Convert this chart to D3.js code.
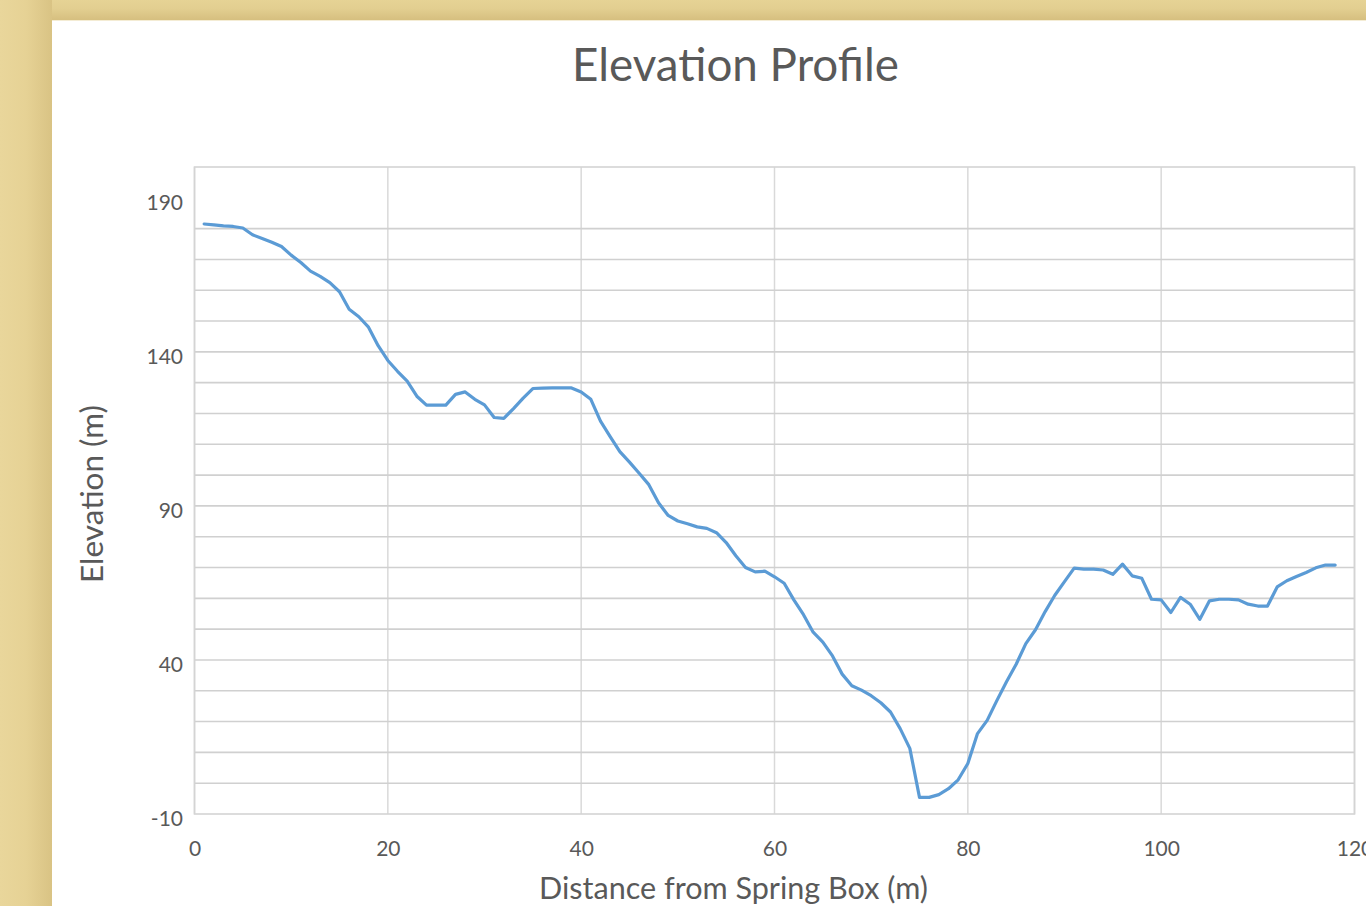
<!DOCTYPE html>
<html>
<head>
  <meta charset="utf-8">
  <title>Elevation Profile</title>
  <style>
    body{margin:0;overflow:hidden;background:#e7d496;}
    svg{display:block;}
    text{font-family:Lato, "Open Sans", sans-serif;fill:#595959;}
  </style>
</head>
<body>
  <div id="container"></div>

  <script src="https://cdn.jsdelivr.net/npm/d3@7/dist/d3.min.js"></script>
  <script>
  // survey points, distance from spring box (m) and elevation (m)
  var distance = [1,2,3,4,5,6,7,8,9,10,11,12,13,14,15,16,17,18,19,20,
    21,22,23,24,25,26,27,28,29,30,31,32,33,34,35,36,37,38,39,40,
    41,42,43,44,45,46,47,48,49,50,51,52,53,54,55,56,57,58,59,60,
    61,62,63,64,65,66,67,68,69,70,71,72,73,74,75,76,77,78,79,80,
    81,82,83,84,85,86,87,88,89,90,91,92,93,94,95,96,97,98,99,100,
    101,102,103,104,105,106,107,108,109,110,111,112,113,114,115,116,117,118];

  var elevation = [181.5,181.2,180.9,180.7,180.2,178,176.8,175.6,174.2,171.4,
    169,166.2,164.5,162.5,159.5,153.8,151.4,148,142,137.2,
    133.7,130.5,125.6,122.7,122.7,122.7,126.2,127,124.6,122.8,
    118.7,118.4,121.6,125,128.1,128.2,128.3,128.3,128.3,127,
    124.6,117.5,112.5,107.6,104.2,100.6,96.9,91,86.9,85.1,
    84.2,83.2,82.7,81.3,78.1,73.8,70,68.6,68.8,67,
    64.9,59.5,54.7,49,45.8,41.3,35.4,31.6,30.2,28.4,
    26.1,23.1,17.7,11.3,-4.6,-4.6,-3.7,-1.8,1.1,6.4,
    16.1,20.4,26.8,32.9,38.6,45.3,49.8,55.7,61,65.4,
    69.8,69.5,69.5,69.2,67.8,71.1,67.3,66.5,59.7,59.5,
    55.4,60.3,58.1,53.2,59.2,59.7,59.7,59.5,58.1,57.5,
    57.5,63.7,65.7,67.1,68.4,69.9,70.8,70.8];

  var xTicks = [0,20,40,60,80,100,120];
  var yTicks = [-10,40,90,140,190];
  var yGrid = [0,10,20,30,40,50,60,70,80,90,100,110,120,130,140,150,160,170,180];

  var W = 1366, H = 906;
  var plot = {left:194.5, right:1354.5, top:167, bottom:814};

  var svg = d3.select("#container").append("svg")
      .attr("width", W)
      .attr("height", H);

  // tan frame round the chart panel
  var defs = svg.append("defs");
  var gl = defs.append("linearGradient").attr("id","leftShade")
      .attr("x1",0).attr("x2",1).attr("y1",0).attr("y2",0);
  gl.append("stop").attr("offset","0%").attr("stop-color","#e9d69b");
  gl.append("stop").attr("offset","50%").attr("stop-color","#e6d295");
  gl.append("stop").attr("offset","100%").attr("stop-color","#d9c384");
  var gt = defs.append("linearGradient").attr("id","topShade")
      .attr("x1",0).attr("x2",0).attr("y1",0).attr("y2",1);
  gt.append("stop").attr("offset","0%").attr("stop-color","#e6d395");
  gt.append("stop").attr("offset","45%").attr("stop-color","#e2ce90");
  gt.append("stop").attr("offset","100%").attr("stop-color","#d6bf7f");

  svg.append("rect").attr("width",W).attr("height",H).attr("fill","#e7d496");
  svg.append("rect").attr("x",0).attr("y",0).attr("width",52).attr("height",H).attr("fill","url(#leftShade)");
  svg.append("rect").attr("x",52).attr("y",0).attr("width",W-52).attr("height",20).attr("fill","url(#topShade)");
  svg.append("rect").attr("x",52).attr("y",20).attr("width",W-52).attr("height",H-20).attr("fill","#fff");
  svg.append("line").attr("x1",52).attr("x2",W).attr("y1",20.5).attr("y2",20.5)
      .attr("stroke","#f4ecd4").attr("stroke-width",1);

  var xScale = d3.scaleLinear().domain([0,120]).range([plot.left, plot.right]);
  var yScale = d3.scaleLinear().domain([-10,200]).range([plot.bottom, plot.top]);

  // gridlines
  svg.append("g").selectAll("line").data(xTicks).enter().append("line")
      .attr("x1", d => xScale(d)).attr("x2", d => xScale(d))
      .attr("y1", plot.top).attr("y2", plot.bottom)
      .attr("stroke","#d9d9d9").attr("stroke-width",1.5);

  svg.append("g").selectAll("line").data(yGrid).enter().append("line")
      .attr("x1", plot.left).attr("x2", plot.right)
      .attr("y1", d => yScale(d)).attr("y2", d => yScale(d))
      .attr("stroke","#d0d0d0").attr("stroke-width",1.6);

  svg.append("rect")
      .attr("x", plot.left).attr("y", plot.top)
      .attr("width", plot.right - plot.left).attr("height", plot.bottom - plot.top)
      .attr("fill","none").attr("stroke","#d4d4d4").attr("stroke-width",1.6);

  // axes: labels only, Excel style (plain hyphen for negatives)
  var xAxis = d3.axisBottom(xScale).tickValues(xTicks).tickSize(0).tickPadding(0)
      .tickFormat(d => String(d));
  var yAxis = d3.axisLeft(yScale).tickValues(yTicks).tickSize(0).tickPadding(0)
      .tickFormat(d => String(d));

  var gx = svg.append("g").attr("transform","translate(0,"+plot.bottom+")").call(xAxis);
  var gy = svg.append("g").attr("transform","translate("+(plot.left-11.5)+",0)").call(yAxis);
  svg.selectAll(".domain").remove();
  gx.selectAll(".tick text").attr("y",33.5).attr("dy",null)
      .attr("dominant-baseline","central")
      .style("font-family","Lato").style("font-size","21px").attr("fill","#595959");
  gy.selectAll(".tick text").attr("x",0).attr("dy",null).attr("y",3)
      .attr("dominant-baseline","central").attr("text-anchor","end")
      .style("font-family","Lato").style("font-size","21px").attr("fill","#595959");

  // elevation line
  var line = d3.line()
      .x((d,i) => xScale(distance[i]))
      .y(d => yScale(d));

  svg.append("path")
      .datum(elevation)
      .attr("d", line)
      .attr("fill","none")
      .attr("stroke","#5b9bd5")
      .attr("stroke-width",3.2)
      .attr("stroke-linejoin","round")
      .attr("stroke-linecap","round");

  // titles, sized to the widths in the original
  function fitWidth(t, w){
    var s = parseFloat(t.style("font-size"));
    var cur = t.node().getComputedTextLength();
    t.style("font-size", (s*w/cur).toFixed(2)+"px");
  }

  var title = svg.append("text")
      .attr("x",735.5).attr("y",81)
      .attr("text-anchor","middle")
      .style("font-size","40px")
      .text("Elevation Profile");
  fitWidth(title, 327);

  var xl = svg.append("text")
      .attr("x",733.5).attr("y",899)
      .attr("text-anchor","middle")
      .style("font-size","26px")
      .text("Distance from Spring Box (m)");
  fitWidth(xl, 389);

  var yl = svg.append("text")
      .attr("transform","translate(103,494) rotate(-90)")
      .attr("text-anchor","middle")
      .style("font-size","26px")
      .text("Elevation (m)");
  fitWidth(yl, 178);
  </script>
</body>
</html>
